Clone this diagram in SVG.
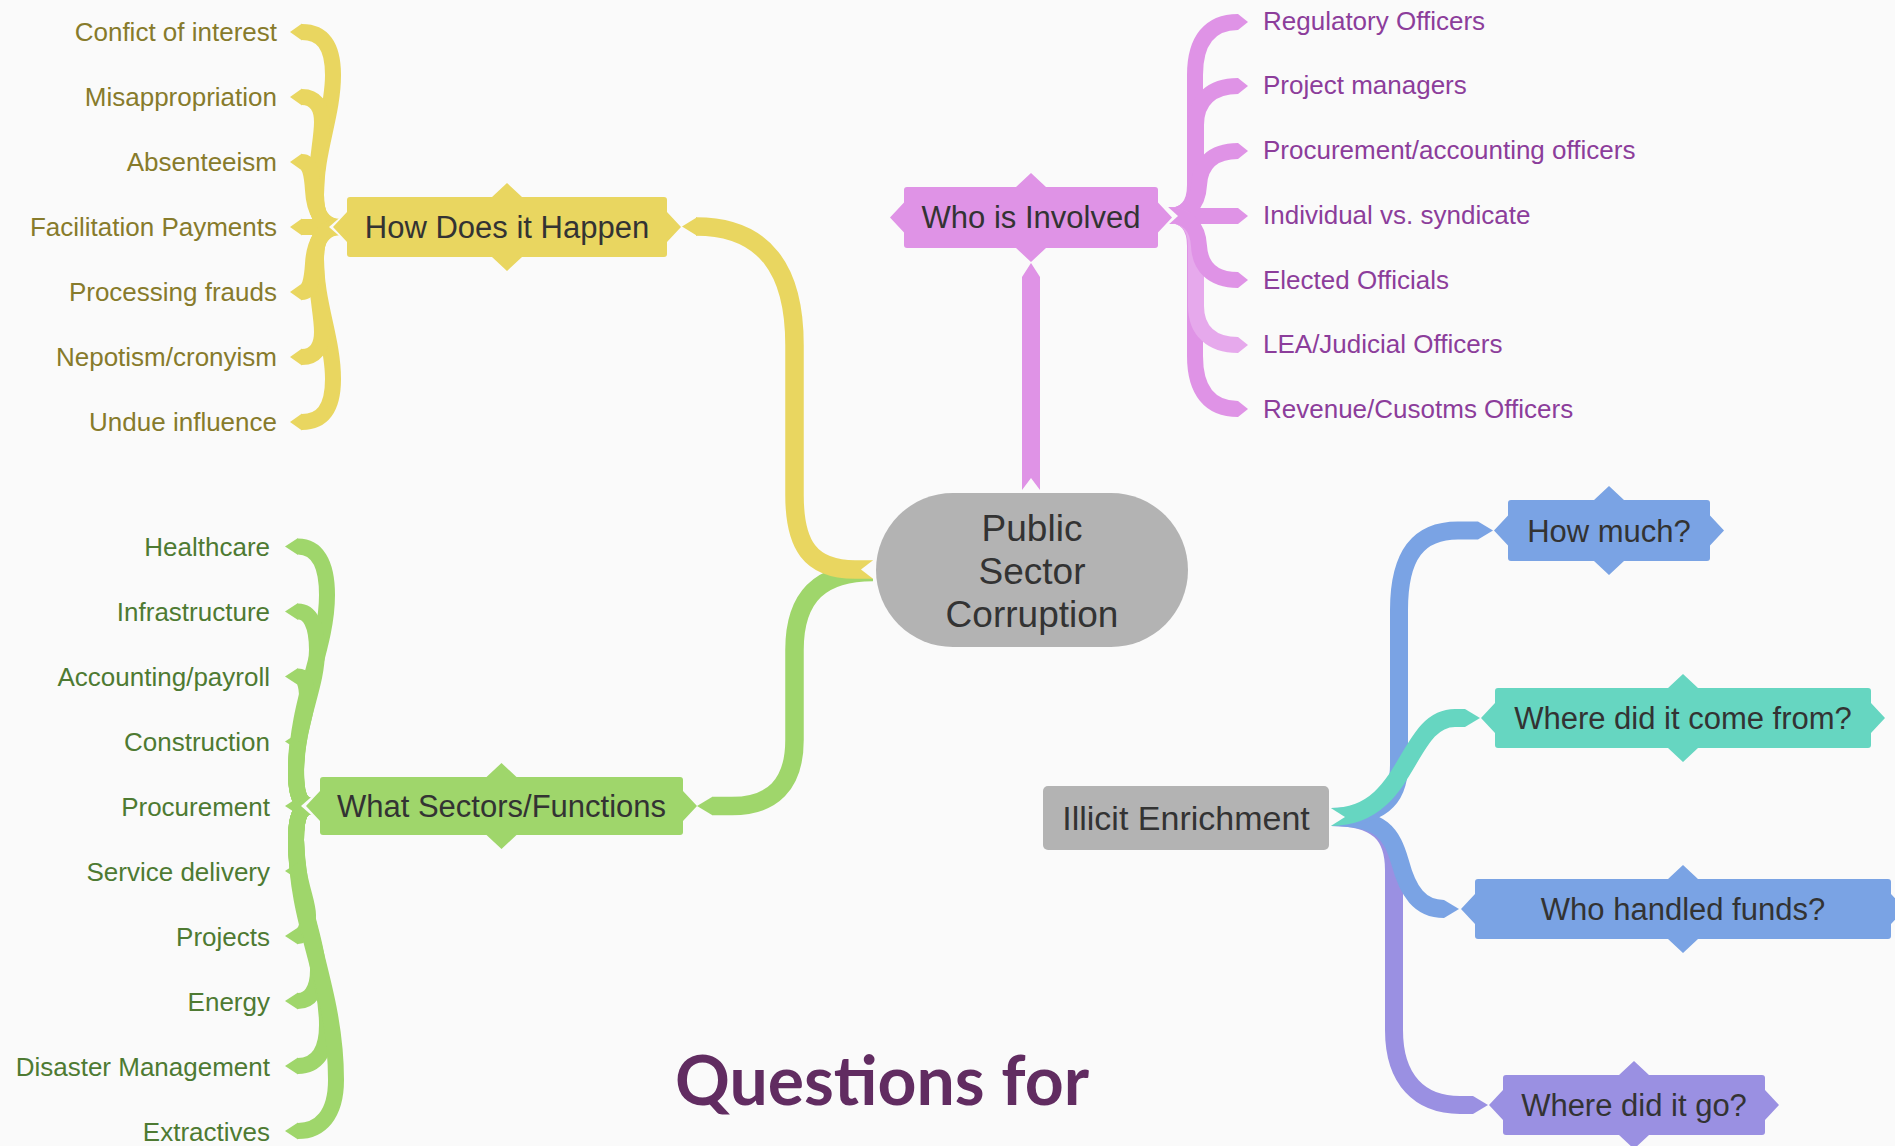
<svg xmlns="http://www.w3.org/2000/svg" width="1895" height="1146" viewBox="0 0 1895 1146">
<style>
.bg{fill:#fafafa}
.band{fill:none;stroke-linecap:butt;stroke-linejoin:round}
.br{stroke-width:16}
.y{stroke:#e9d660}.yf{fill:#e9d660}
.g{stroke:#9fd66b}.gf{fill:#9fd66b}
.p{stroke:#df93e6}.pf{fill:#df93e6}
.pl{stroke:#e6a9ec}.plf{fill:#e6a9ec}
.b{stroke:#7aa3e4}.bf{fill:#7aa3e4}
.t{stroke:#66d6c1}.tf{fill:#66d6c1}
.v{stroke:#9a90e2}.vf{fill:#9a90e2}
.gr{fill:#b3b3b3}
text{font-family:"Liberation Sans",Arial,Helvetica,sans-serif}
.nt{font-size:31px;fill:#333333;text-anchor:middle}
.it{font-size:26px}
.iy{fill:#877b2b;text-anchor:end}
.ig{fill:#4e7a32;text-anchor:end}
.ip{fill:#8c3d9b}
</style>
<rect class="bg" x="0" y="0" width="1895" height="1146"/>

<g id="connectors">
  <!-- main branches from central topic -->
  <path class="band g" stroke-width="18.5" d="M873 572 C822 572 794.5 595 794.5 650 V740 C794.5 785 772 806 732 806 H712"/>
  <polygon class="gf" points="712,797 697,806 712,815"/>
  <path class="band y" stroke-width="18.5" d="M696 226.5 C765 226.5 794.5 270 794.5 345 V495 C794.5 545 810 569.5 855 569.5 H873"/>
  <polygon class="yf" points="697,217.2 682,226.5 697,235.8"/>
  <polygon class="bg" points="874,559.5 861,569.5 874,579.5"/>
  <polygon class="pf" points="1031,263 1040,277 1040,490 1031,478 1022,490 1022,277"/>

  <!-- Illicit Enrichment branches -->
  <path class="band v" stroke-width="18" d="M1331 817 C1378 817 1394 835 1394 870 V1030 C1394 1080 1420 1105 1460 1105 H1473"/>
  <polygon class="vf" points="1473,1096 1488,1105 1473,1114"/>
  <path class="band b" stroke-width="18" d="M1331 817 C1383 817 1392 835 1400 862 C1408 892 1420 909 1444 909"/>
  <polygon class="bf" points="1444,900 1459,909 1444,918"/>
  <path class="band b" stroke-width="18" d="M1331 817 C1380 817 1399 800 1399 765 V610 C1399 555 1418 530.5 1458 530.5 H1478"/>
  <polygon class="bf" points="1478,521.5 1493,530.5 1478,539.5"/>
  <path class="band t" stroke-width="18" d="M1331 817 C1410 817 1405 718 1455 718 H1465"/>
  <polygon class="tf" points="1465,709 1480,718 1465,727"/>
  <polygon class="bg" points="1330,807.5 1345,817 1330,826.5"/>

  <!-- How Does it Happen brace -->
  <g class="band y br">
    <path d="M340 227 C322 227 316 215 316 195 C316 150 333 115 333 75 C333 45 322 32 302 32"/>
    <path d="M340 227 C322 227 316 215 316 195 C316 160 322 140 322 122 C322 106 315 97 302 97"/>
    <path d="M340 227 C322 227 314 210 313 190 C312 175 310 162 302 162"/>
    <path d="M340 227 H302"/>
    <g transform="translate(0,454) scale(1,-1)">
      <path d="M340 227 C322 227 316 215 316 195 C316 150 333 115 333 75 C333 45 322 32 302 32"/>
      <path d="M340 227 C322 227 316 215 316 195 C316 160 322 140 322 122 C322 106 315 97 302 97"/>
      <path d="M340 227 C322 227 314 210 313 190 C312 175 310 162 302 162"/>
    </g>
  </g>
  <g class="yf">
    <polygon points="302,23.5 290,32 302,40.5"/>
    <polygon points="302,88.5 290,97 302,105.5"/>
    <polygon points="302,153.5 290,162 302,170.5"/>
    <polygon points="302,218.5 290,227 302,235.5"/>
    <polygon points="302,283.5 290,292 302,300.5"/>
    <polygon points="302,348.5 290,357 302,365.5"/>
    <polygon points="302,413.5 290,422 302,430.5"/>
  </g>
  <polygon class="bg" points="341,216.5 329,227 341,237.5"/>

  <!-- What Sectors/Functions brace -->
  <g class="band g br">
    <path d="M312 806 C300 806 296 795 296 775 C296 700 327 650 327 595 C327 562 316 546.5 298 546.5"/>
    <path d="M312 806 C300 806 296 795 296 775 C296 720 317 690 317 650 C317 625 310 611.5 298 611.5"/>
    <path d="M312 806 C300 806 296 795 296 770 C296 735 307 715 307 698 C307 684 304 676.5 298 676.5"/>
    <path d="M312 806 C298 806 296 790 296 770 C296 752 298 741.5 298 741.5"/>
    <path d="M312 806 H298"/>
    <path d="M312 806 C300 806 296 817 296 837 C296 857 298 871 298 871"/>
    <path d="M312 806 C300 806 296 817 296 840 C296 880 308 900 308 915 C308 928 304 936 298 936"/>
    <path d="M312 806 C300 806 296 817 296 840 C296 900 318 940 318 970 C318 990 310 1001 298 1001"/>
    <path d="M312 806 C300 806 296 817 296 840 C296 920 327 970 327 1025 C327 1052 316 1066 298 1066"/>
    <path d="M312 806 C300 806 296 817 296 840 C300 930 336 990 336 1080 C336 1115 320 1131 298 1131"/>
  </g>
  <g class="gf">
    <polygon points="298,538 285,546.5 298,555"/>
    <polygon points="298,603 285,611.5 298,620"/>
    <polygon points="298,668 285,676.5 298,685"/>
    <polygon points="298,733 285,741.5 298,750"/>
    <polygon points="298,797.5 285,806 298,814.5"/>
    <polygon points="298,862.5 285,871 298,879.5"/>
    <polygon points="298,927.5 285,936 298,944.5"/>
    <polygon points="298,992.5 285,1001 298,1009.5"/>
    <polygon points="298,1057.5 285,1066 298,1074.5"/>
    <polygon points="298,1122.5 285,1131 298,1139.5"/>
  </g>
  <polygon class="bg" points="313,795.5 301,806 313,816.5"/>

  <!-- Who is Involved brace -->
  <g class="band br">
    <path class="p" d="M1168 216 C1186 216 1195 205 1195 185 V75 C1195 40 1210 22 1238 22"/>
    <path class="p" d="M1168 216 C1186 216 1196 205 1196 185 V125 C1196 100 1212 86 1238 86"/>
    <path class="p" d="M1168 216 C1186 216 1198 205 1199 185 C1200 165 1212 151 1238 151"/>
    <path class="p" d="M1168 216 H1238"/>
    <g transform="translate(0,431) scale(1,-1)">
      <path class="p" d="M1168 216 C1186 216 1195 205 1195 185 V75 C1195 40 1210 22 1238 22"/>
      <path class="pl" d="M1168 216 C1186 216 1196 205 1196 185 V125 C1196 100 1212 86 1238 86"/>
      <path class="p" d="M1168 216 C1186 216 1198 205 1199 185 C1200 165 1212 151 1238 151"/>
    </g>
  </g>
  <g class="pf">
    <polygon points="1238,14 1248,22 1238,30"/>
    <polygon points="1238,78 1248,86 1238,94"/>
    <polygon points="1238,143 1248,151 1238,159"/>
    <polygon points="1238,208 1248,216 1238,224"/>
    <polygon points="1238,272 1248,280 1238,288"/>
    <polygon class="plf" points="1238,337 1248,345 1238,353"/>
    <polygon points="1238,401 1248,409 1238,417"/>
  </g>
  <polygon class="bg" points="1167,206 1178,216 1167,226"/>
</g>

<g id="node-central">
  <rect class="gr" x="876" y="493" width="312" height="154" rx="77" ry="77"/>
  <text class="nt" style="font-size:37px" x="1032" y="541">Public</text>
  <text class="nt" style="font-size:37px" x="1032" y="584">Sector</text>
  <text class="nt" style="font-size:37px" x="1032" y="627">Corruption</text>
</g>

<g id="node-how">
  <rect class="yf" x="347" y="197" width="320" height="60" rx="3"/>
  <path class="yf" d="M492 197 L507 183 L522 197 Z M492 257 L507 271 L522 257 Z M347 212 L333 227 L347 242 Z M667 212 L681 227 L667 242 Z"/>
  <text class="nt" x="507" y="238">How Does it Happen</text>
</g>

<g id="node-who">
  <rect class="pf" x="904" y="187" width="254" height="61" rx="3"/>
  <path class="pf" d="M1016 187 L1031 173 L1046 187 Z M1016 248 L1031 262 L1046 248 Z M904 202.5 L890 217.5 L904 232.5 Z M1158 202.5 L1172 217.5 L1158 232.5 Z"/>
  <text class="nt" x="1031" y="228">Who is Involved</text>
</g>

<g id="node-what">
  <rect class="gf" x="320" y="777" width="363" height="58" rx="3"/>
  <path class="gf" d="M486.5 777 L501.5 763 L516.5 777 Z M486.5 835 L501.5 849 L516.5 835 Z M320 791 L306 806 L320 821 Z M683 791 L697 806 L683 821 Z"/>
  <text class="nt" x="501.5" y="817">What Sectors/Functions</text>
</g>

<g id="node-illicit">
  <rect class="gr" x="1043" y="786" width="286" height="64" rx="5"/>
  <text class="nt" style="font-size:34px" x="1186" y="830">Illicit Enrichment</text>
</g>

<g id="node-howmuch">
  <rect class="bf" x="1508" y="500" width="202" height="61" rx="3"/>
  <path class="bf" d="M1594 500 L1609 486 L1624 500 Z M1594 561 L1609 575 L1624 561 Z M1508 515.5 L1494 530.5 L1508 545.5 Z M1710 515.5 L1724 530.5 L1710 545.5 Z"/>
  <text class="nt" x="1609" y="542">How much?</text>
</g>

<g id="node-comefrom">
  <rect class="tf" x="1495" y="688" width="376" height="60" rx="3"/>
  <path class="tf" d="M1668 688 L1683 674 L1698 688 Z M1668 748 L1683 762 L1698 748 Z M1495 703 L1481 718 L1495 733 Z M1871 703 L1885 718 L1871 733 Z"/>
  <text class="nt" x="1683" y="729">Where did it come from?</text>
</g>

<g id="node-handled">
  <rect class="bf" x="1475" y="879" width="416" height="60" rx="3"/>
  <path class="bf" d="M1668 879 L1683 865 L1698 879 Z M1668 939 L1683 953 L1698 939 Z M1475 894 L1461 909 L1475 924 Z M1891 894 L1905 909 L1891 924 Z"/>
  <text class="nt" x="1683" y="920">Who handled funds?</text>
</g>

<g id="node-go">
  <rect class="vf" x="1503" y="1075" width="262" height="60" rx="3"/>
  <path class="vf" d="M1619 1075 L1634 1061 L1649 1075 Z M1619 1135 L1634 1149 L1649 1135 Z M1503 1090 L1489 1105 L1503 1120 Z M1765 1090 L1779 1105 L1765 1120 Z"/>
  <text class="nt" x="1634" y="1116">Where did it go?</text>
</g>

<g id="items-how">
  <text class="it iy" x="277" y="41">Confict of interest</text>
  <text class="it iy" x="277" y="106">Misappropriation</text>
  <text class="it iy" x="277" y="171">Absenteeism</text>
  <text class="it iy" x="277" y="236">Facilitation Payments</text>
  <text class="it iy" x="277" y="301">Processing frauds</text>
  <text class="it iy" x="277" y="366">Nepotism/cronyism</text>
  <text class="it iy" x="277" y="431">Undue influence</text>
</g>

<g id="items-what">
  <text class="it ig" x="270" y="556">Healthcare</text>
  <text class="it ig" x="270" y="621">Infrastructure</text>
  <text class="it ig" x="270" y="686">Accounting/payroll</text>
  <text class="it ig" x="270" y="751">Construction</text>
  <text class="it ig" x="270" y="816">Procurement</text>
  <text class="it ig" x="270" y="881">Service delivery</text>
  <text class="it ig" x="270" y="946">Projects</text>
  <text class="it ig" x="270" y="1011">Energy</text>
  <text class="it ig" x="270" y="1076">Disaster Management</text>
  <text class="it ig" x="270" y="1141">Extractives</text>
</g>

<g id="items-who">
  <text class="it ip" x="1263" y="29.5">Regulatory Officers</text>
  <text class="it ip" x="1263" y="94">Project managers</text>
  <text class="it ip" x="1263" y="159">Procurement/accounting officers</text>
  <text class="it ip" x="1263" y="224">Individual vs. syndicate</text>
  <text class="it ip" x="1263" y="288.5">Elected Officials</text>
  <text class="it ip" x="1263" y="353">LEA/Judicial Officers</text>
  <text class="it ip" x="1263" y="417.5">Revenue/Cusotms Officers</text>
</g>

<g id="title">
  <text x="675" y="1105" style="font-family:Lato,'Open Sans',sans-serif;font-weight:700;font-size:68px;fill:#612c61" textLength="414" lengthAdjust="spacingAndGlyphs">Questions for</text>
</g>
</svg>
